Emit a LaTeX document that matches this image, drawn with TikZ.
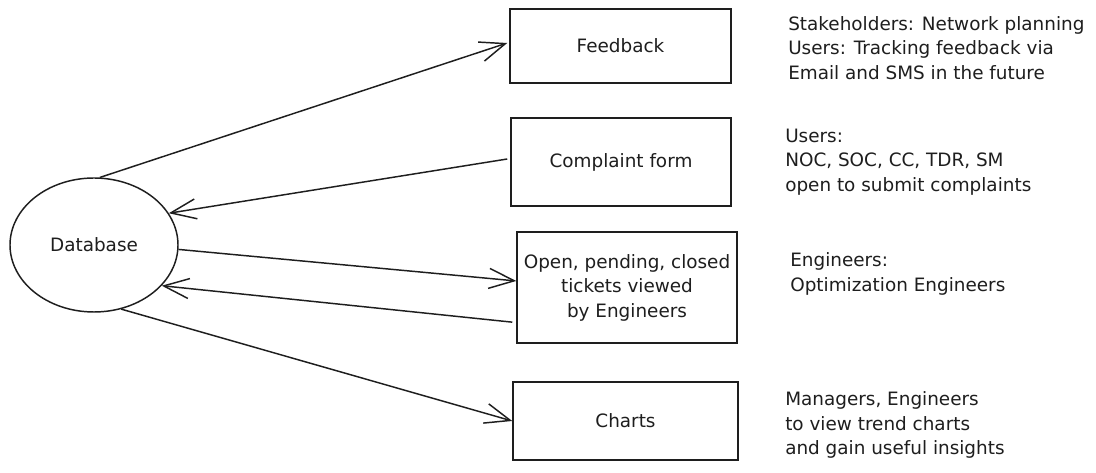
\documentclass[tikz,border=0pt]{standalone}
\usepackage{fontspec}
\setmainfont{DejaVu Sans}
\usetikzlibrary{shapes.geometric,arrows.meta}
\definecolor{ink}{HTML}{1E1E1E}
\begin{document}
\begin{tikzpicture}[x=0.75pt,y=-0.75pt,
  every node/.style={font=\fontsize{13.8}{18.4}\selectfont, text=ink},
  box/.style={draw=ink, line width=1.1pt, rectangle, inner sep=2pt, align=center},
  dbshape/.style={draw=ink, line width=1.1pt, ellipse, inner sep=0pt,
    minimum width=126pt, minimum height=100.5pt},
  note/.style={align=left, anchor=west, inner sep=0pt},
  link/.style={draw=ink, line width=1.1pt,
    -{Straight Barb[length=19pt,width=15pt,line width=1.1pt]}}]
\useasboundingbox (0,0) rectangle (1096,473);
\fill[white] (0,0) rectangle (1096,473);

\node[dbshape] (db) at (94,245) {Database};

\node[box, minimum width=165.75pt, minimum height=55.5pt] (fb) at (620.5,46) {Feedback};
\node[box, minimum width=165pt, minimum height=66pt] (cf) at (621,162) {Complaint form};
\node[box, minimum width=165pt, minimum height=83.25pt] (ot) at (627,287.5)
  {Open, pending, closed\\tickets viewed\\by Engineers};
\node[box, minimum width=168.75pt, minimum height=58.5pt] (ch) at (625.5,421) {Charts};

\node[note] (n1) at (788,48) {Stakeholders: Network planning\\Users: Tracking feedback via\\Email and SMS in the future};
\node[note] (n2) at (785,162) {Users:\\NOC, SOC, CC, TDR, SM\\open to submit complaints};
\node[note] (n3) at (790,274) {Engineers:\\Optimization Engineers};
\node[note] (n4) at (785,425) {Managers, Engineers\\to view trend charts\\and gain useful insights};

\draw[link] (db.85) -- ([yshift=2.25pt,xshift=-1.5pt]fb.west);
\draw[link] ([yshift=2.25pt,xshift=-2.25pt]cf.west) -- (db.23);
\draw[link] (db.-3) -- ([yshift=4.9pt]ot.west);
\draw[link] ([yshift=-26pt,xshift=-3pt]ot.west) -- (db.-31);
\draw[link] (db.-67) -- (ch.west);
\end{tikzpicture}
\end{document}
